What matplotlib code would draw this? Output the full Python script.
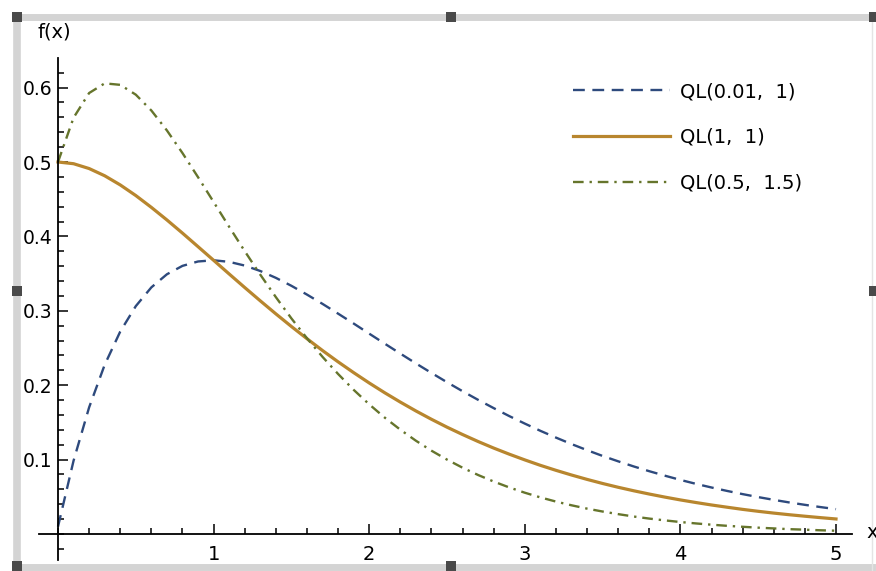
import matplotlib
matplotlib.use("Agg")
import matplotlib.pyplot as plt
from matplotlib.lines import Line2D
from matplotlib.patches import Rectangle
from matplotlib.ticker import MultipleLocator, FixedLocator

# x grid (step 0.1)
x = [round(0.1 * i, 1) for i in range(51)]

# QL(0.01, 1)
ql_001_1 = [0.0099, 0.0985, 0.1702, 0.2274, 0.2721, 0.3063, 0.3315, 0.3491, 0.3604, 0.3663,
            0.3679, 0.3658, 0.3608, 0.3535, 0.3443, 0.3336, 0.3218, 0.3093, 0.2962, 0.2829,
            0.2693, 0.2558, 0.2425, 0.2293, 0.2165, 0.2040, 0.1919, 0.1803, 0.1692, 0.1585,
            0.1484, 0.1387, 0.1296, 0.1209, 0.1127, 0.1049, 0.0977, 0.0908, 0.0844, 0.0784,
            0.0727, 0.0674, 0.0625, 0.0579, 0.0536, 0.0496, 0.0459, 0.0424, 0.0392, 0.0362,
            0.0334]
# QL(1, 1)
ql_1_1 = [0.5000, 0.4977, 0.4912, 0.4815, 0.4692, 0.4549, 0.4390, 0.4221, 0.4044, 0.3862,
          0.3679, 0.3495, 0.3313, 0.3134, 0.2959, 0.2789, 0.2625, 0.2466, 0.2314, 0.2169,
          0.2030, 0.1898, 0.1773, 0.1654, 0.1542, 0.1436, 0.1337, 0.1243, 0.1155, 0.1073,
          0.0996, 0.0923, 0.0856, 0.0793, 0.0734, 0.0679, 0.0628, 0.0581, 0.0537, 0.0496,
          0.0458, 0.0423, 0.0390, 0.0360, 0.0331, 0.0305, 0.0281, 0.0259, 0.0239, 0.0220,
          0.0202]
# QL(0.5, 1.5)
ql_05_15 = [0.5000, 0.5595, 0.5927, 0.6057, 0.6037, 0.5905, 0.5692, 0.5424, 0.5120, 0.4796,
            0.4463, 0.4129, 0.3802, 0.3486, 0.3184, 0.2898, 0.2631, 0.2381, 0.2151, 0.1938,
            0.1743, 0.1564, 0.1402, 0.1254, 0.1120, 0.1000, 0.0891, 0.0793, 0.0705, 0.0626,
            0.0555, 0.0492, 0.0436, 0.0386, 0.0341, 0.0302, 0.0267, 0.0235, 0.0207, 0.0183,
            0.0161, 0.0142, 0.0125, 0.0110, 0.0097, 0.0085, 0.0075, 0.0065, 0.0058, 0.0050,
            0.0044]

labels = ["QL(0.01,  1)", "QL(1,  1)", "QL(0.5,  1.5)"]
x_ticks = [1, 2, 3, 4, 5]
y_ticks = [0.1, 0.2, 0.3, 0.4, 0.5, 0.6]

W, H = 876, 571
plt.rcParams["font.family"] = ["DejaVu Sans"]
fig = plt.figure(figsize=(W / 100, H / 100), dpi=100)


def fx(px):
    return px / W


def fy(py):
    return 1 - py / H


# axes placed so that data 0,0 sits at pixel (58, 534)
left, right, top, bottom = 39, 856, 58, 560
ax = fig.add_axes([fx(left), fy(bottom), fx(right - left), fy(top) - fy(bottom)])
ax.set_xlim((left - 58) / 155.6, (right - 58) / 155.6)
ax.set_ylim((534 - bottom) / 744, (534 - top) / 744)

ax.plot(x, ql_001_1, color="#2e4a7d", lw=1.7, dashes=(5, 3.2), label=labels[0])
ax.plot(x, ql_1_1, color="#b8862e", lw=2.3, label=labels[1])
ax.plot(x, ql_05_15, color="#66752c", lw=1.7, dashes=(4.5, 2.5, 1, 2.5), label=labels[2])

for s in ["top", "right"]:
    ax.spines[s].set_visible(False)
ax.spines["left"].set_position(("data", 0))
ax.spines["bottom"].set_position(("data", 0))
ax.spines["bottom"].set_bounds(ax.get_xlim()[0], 5.1)
for s in ["left", "bottom"]:
    ax.spines[s].set_linewidth(1.3)

ax.xaxis.set_major_locator(FixedLocator(x_ticks))
ax.xaxis.set_minor_locator(MultipleLocator(0.2))
ax.yaxis.set_major_locator(FixedLocator(y_ticks))
ax.yaxis.set_minor_locator(MultipleLocator(0.02))
ax.tick_params(which="both", direction="in", width=1.1, colors="black")
ax.tick_params(which="major", length=7)
ax.tick_params(which="minor", length=4)
ax.tick_params(axis="x", pad=8, labelsize=14)
ax.tick_params(axis="y", pad=4, labelsize=13.5)
ax.set_xticklabels([str(t) for t in x_ticks])
ax.set_yticklabels([f"{t:.1f}" for t in y_ticks])

fig.text(fx(54), fy(32), "f(x)", fontsize=14, ha="center", va="center")
fig.text(fx(866), fy(533), "x", fontsize=14, ha="left", va="center")

leg = ax.legend(loc="upper left", bbox_to_anchor=(fx(573), fy(82)), bbox_transform=fig.transFigure,
                frameon=False, fontsize=14, handlelength=5.0, handletextpad=0.5,
                labelspacing=1.38, borderpad=0, borderaxespad=0)

# selection frame round the graphic
frame = "#d4d4d4"
fig.add_artist(Line2D([fx(18), fx(872)], [fy(16.5), fy(16.5)], color=frame, lw=5))
fig.add_artist(Line2D([fx(17), fx(17)], [fy(16), fy(571)], color=frame, lw=5.5))
fig.add_artist(Line2D([fx(18), fx(872)], [fy(567), fy(567)], color=frame, lw=5))
fig.add_artist(Line2D([fx(872), fx(872)], [fy(16), fy(571)], color="#e4e4e4", lw=1))
for hx, hy in [(17, 17), (451, 17), (17, 291), (17, 566), (451, 566), (874, 17), (874, 291)]:
    fig.add_artist(Rectangle((fx(hx - 5), fy(hy + 5)), fx(10), 10 / H,
                             facecolor="#4a4a4a", edgecolor="none", zorder=6))

fig.savefig("out.png", dpi=100)
